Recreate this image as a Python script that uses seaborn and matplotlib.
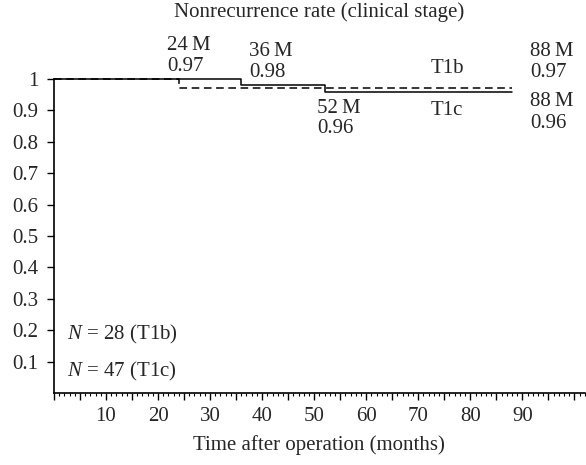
import matplotlib
matplotlib.use("Agg")
import matplotlib.pyplot as plt
from matplotlib.ticker import MultipleLocator, FuncFormatter
import seaborn as sns
import pandas as pd

# Data
t1b_time = [0, 24, 88]
t1b_rate = [1.0, 0.97, 0.97]
t1c_time = [0, 36, 52, 88]
t1c_rate = [1.0, 0.98, 0.96, 0.96]
y_ticks = [0.1, 0.2, 0.3, 0.4, 0.5, 0.6, 0.7, 0.8, 0.9, 1.0]
y_tick_labels = ["0.1", "0.2", "0.3", "0.4", "0.5", "0.6", "0.7", "0.8", "0.9", "1"]
x_tick_labels = [10, 20, 30, 40, 50, 60, 70, 80, 90]

sns.set_theme(style="white")
plt.rcParams["font.family"] = ["Liberation Serif", "DejaVu Serif"]
plt.rcParams["mathtext.fontset"] = "custom"
plt.rcParams["mathtext.it"] = "Liberation Serif:italic"
plt.rcParams["mathtext.rm"] = "Liberation Serif"

fig = plt.figure(figsize=(5.86, 4.65), dpi=100)
ax = fig.add_axes([0.092, 0.155, 0.906, 0.675])

df_b = pd.DataFrame({"time": t1b_time, "rate": t1b_rate})
df_c = pd.DataFrame({"time": t1c_time, "rate": t1c_rate})
sns.lineplot(data=df_c, x="time", y="rate", ax=ax, color="black", lw=1.1,
             drawstyle="steps-post", clip_on=False)
sns.lineplot(data=df_b, x="time", y="rate", ax=ax, color="black", lw=1.1,
             drawstyle="steps-post", linestyle=(0, (5, 3)), clip_on=False)

ax.set_xlim(0, 102)
ax.set_ylim(0, 1.0)
for s in ["top", "right"]:
    ax.spines[s].set_visible(False)
for s in ["left", "bottom"]:
    ax.spines[s].set_color("black")
    ax.spines[s].set_linewidth(1.2)

ax.set_yticks(y_ticks)
ax.set_yticklabels(y_tick_labels)
ax.xaxis.set_major_locator(MultipleLocator(5))
ax.xaxis.set_minor_locator(MultipleLocator(1))
ax.xaxis.set_major_formatter(FuncFormatter(
    lambda v, p: str(int(round(v))) if int(round(v)) in x_tick_labels else ""))
ax.tick_params(axis="x", which="major", direction="out", length=5, width=1,
               color="black", labelsize=15, pad=5, bottom=True)
ax.tick_params(axis="x", which="minor", direction="out", length=2.5, width=0.8,
               color="black", bottom=True)
ax.tick_params(axis="y", which="major", direction="out", length=5, width=1,
               color="black", labelsize=15, pad=6, left=True)

ax.set_xlabel("Time after operation (months)", fontsize=15, labelpad=7)
ax.set_ylabel("")
ax.text(0.5, 1.213, "Nonrecurrence rate (clinical stage)", fontsize=15,
        ha="center", va="center", transform=ax.transAxes)

fs = 15
def label(x, y1, y2, s1, s2):
    ax.text(x, y1, s1, fontsize=fs, ha="left", va="center", clip_on=False)
    ax.text(x, y2, s2, fontsize=fs, ha="left", va="center", clip_on=False)

label(21.8, 1.107, 1.041, "24\u2009M", "0.97")
label(37.5, 1.088, 1.022, "36\u2009M", "0.98")
label(50.6, 0.907, 0.843, "52\u2009M", "0.96")
label(91.5, 1.089, 1.022, "88\u2009M", "0.97")
label(91.5, 0.929, 0.857, "88\u2009M", "0.96")
ax.text(75.5, 1.035, "T1b", fontsize=fs, ha="center", va="center")
ax.text(75.5, 0.901, "T1c", fontsize=fs, ha="center", va="center")
ax.text(2.5, 0.185, "$N$ = 28 (T1b)", fontsize=fs, ha="left", va="center")
ax.text(2.5, 0.067, "$N$ = 47 (T1c)", fontsize=fs, ha="left", va="center")

fig.savefig("out.png", dpi=100)
